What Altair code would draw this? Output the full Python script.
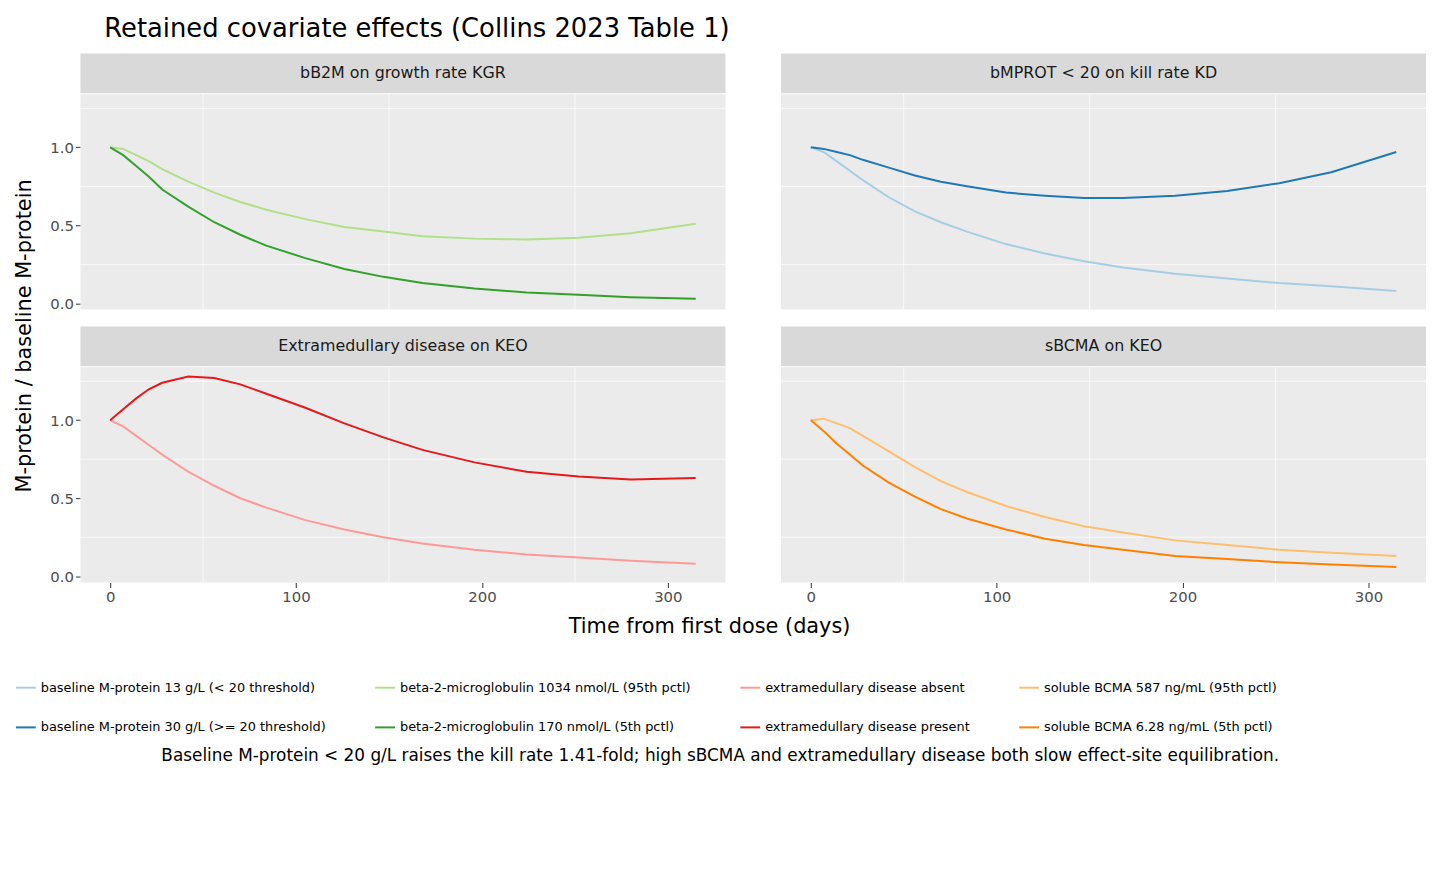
import pandas as pd
import altair as alt

days = [0, 7, 14, 21, 28, 42, 56, 70, 84, 105, 126, 147, 168, 196, 224, 252, 280, 315]

b2m_high = [1.0, 0.99, 0.95, 0.91, 0.86, 0.78, 0.71, 0.65, 0.60, 0.54, 0.49, 0.46, 0.43, 0.415, 0.41, 0.42, 0.45, 0.51]
b2m_low = [1.0, 0.95, 0.88, 0.81, 0.73, 0.62, 0.52, 0.44, 0.37, 0.29, 0.22, 0.17, 0.13, 0.095, 0.07, 0.055, 0.04, 0.03]
mprot_13 = [1.0, 0.97, 0.91, 0.85, 0.79, 0.68, 0.59, 0.52, 0.46, 0.38, 0.32, 0.27, 0.23, 0.19, 0.16, 0.13, 0.11, 0.08]
mprot_30 = [1.0, 0.99, 0.97, 0.95, 0.92, 0.87, 0.82, 0.78, 0.75, 0.71, 0.69, 0.675, 0.675, 0.69, 0.72, 0.77, 0.84, 0.97]
emd_absent = [1.0, 0.96, 0.90, 0.84, 0.78, 0.67, 0.58, 0.50, 0.44, 0.36, 0.30, 0.25, 0.21, 0.17, 0.14, 0.12, 0.10, 0.08]
emd_present = [1.0, 1.07, 1.14, 1.2, 1.24, 1.28, 1.27, 1.23, 1.17, 1.08, 0.98, 0.89, 0.81, 0.73, 0.67, 0.64, 0.62, 0.63]
bcma_high = [1.0, 1.01, 0.98, 0.95, 0.90, 0.80, 0.70, 0.61, 0.54, 0.45, 0.38, 0.32, 0.28, 0.23, 0.20, 0.17, 0.15, 0.13]
bcma_low = [1.0, 0.93, 0.85, 0.78, 0.71, 0.60, 0.51, 0.43, 0.37, 0.30, 0.24, 0.20, 0.17, 0.13, 0.11, 0.09, 0.075, 0.06]

labels = [
    "baseline M-protein 13 g/L (< 20 threshold)",
    "baseline M-protein 30 g/L (>= 20 threshold)",
    "beta-2-microglobulin 1034 nmol/L (95th pctl)",
    "beta-2-microglobulin 170 nmol/L (5th pctl)",
    "extramedullary disease absent",
    "extramedullary disease present",
    "soluble BCMA 587 ng/mL (95th pctl)",
    "soluble BCMA 6.28 ng/mL (5th pctl)",
]
colors = ["#A6CEE3", "#1F78B4", "#B2DF8A", "#33A02C", "#FB9A99", "#E31A1C", "#FDBF6F", "#FF7F00"]
# legend fills row by row; reorder so it reads column by column like the reference
order = [0, 2, 4, 6, 1, 3, 5, 7]

minor_x = [50, 150, 250]
minor_y = [0.25, 0.75, 1.25]

panels = [
    ("bB2M on growth rate KGR", [(labels[2], b2m_high), (labels[3], b2m_low)]),
    ("bMPROT < 20 on kill rate KD", [(labels[0], mprot_13), (labels[1], mprot_30)]),
    ("Extramedullary disease on KEO", [(labels[4], emd_absent), (labels[5], emd_present)]),
    ("sBCMA on KEO", [(labels[6], bcma_high), (labels[7], bcma_low)]),
]

W, H, S = 650, 217, 40
FONT = "DejaVu Sans"
color_scale = alt.Scale(domain=[labels[k] for k in order], range=[colors[k] for k in order])
xs = alt.Scale(domain=[-16, 331], nice=False)
ys = alt.Scale(domain=[-0.04, 1.34], nice=False)


def panel(i, name, series):
    rows = []
    for lab, vals in series:
        rows += [{"day": d, "ratio": v, "series": lab} for d, v in zip(days, vals)]
    df = pd.DataFrame(rows)
    left, bottom = i % 2 == 0, i >= 2
    xaxis = alt.Axis(values=[0, 100, 200, 300], labels=bottom, ticks=bottom, title=None,
                     gridColor="white", gridWidth=1.4, domain=False, labelFontSize=15,
                     labelColor="#4D4D4D", tickColor="#333333", labelFont=FONT)
    yaxis = alt.Axis(values=[0, 0.5, 1.0], labels=left, ticks=left, format=".1f", title=None,
                     gridColor="white", gridWidth=1.4, domain=False, labelFontSize=15,
                     labelColor="#4D4D4D", tickColor="#333333", labelFont=FONT, minExtent=40)
    bg = alt.Chart(pd.DataFrame({"a": [0]})).mark_rect(color="#EBEBEB").encode(
        x=alt.value(0), x2=alt.value(W), y=alt.value(0), y2=alt.value(H))
    vminor = alt.Chart(pd.DataFrame({"m": minor_x})).mark_rule(color="white", strokeWidth=0.7).encode(
        x=alt.X("m:Q", scale=xs), y=alt.value(0), y2=alt.value(H))
    hminor = alt.Chart(pd.DataFrame({"m": minor_y})).mark_rule(color="white", strokeWidth=0.7).encode(
        y=alt.Y("m:Q", scale=ys), x=alt.value(0), x2=alt.value(W))
    lines = alt.Chart(df).mark_line(strokeWidth=2).encode(
        x=alt.X("day:Q", scale=xs, axis=xaxis),
        y=alt.Y("ratio:Q", scale=ys, axis=yaxis),
        color=alt.Color("series:N", scale=color_scale, title=None,
                        legend=alt.Legend(orient="bottom", columns=4, symbolType="stroke",
                                          symbolStrokeWidth=2, symbolSize=400, labelFontSize=13,
                                          labelFont=FONT, columnPadding=45, rowPadding=22,
                                          labelLimit=400, offset=40)),
    )
    strip_df = pd.DataFrame({"t": [name]})
    strip = (
        alt.Chart(strip_df).mark_rect(color="#D9D9D9").encode(
            x=alt.value(0), x2=alt.value(W), y=alt.value(0), y2=alt.value(S))
        + alt.Chart(strip_df).mark_text(fontSize=16, color="#1A1A1A", font=FONT).encode(
            text="t:N", x=alt.value(W / 2), y=alt.value(S / 2))
    ).properties(width=W, height=S)
    plot = (bg + vminor + hminor + lines).properties(width=W, height=H)
    return alt.vconcat(strip, plot, spacing=0)


ps = [panel(i, n, s) for i, (n, s) in enumerate(panels)]
grid = alt.vconcat(alt.hconcat(ps[0], ps[1], spacing=15),
                   alt.hconcat(ps[2], ps[3], spacing=15), spacing=15)

TOTAL_H = 2 * (S + H) + 15
ytitle = alt.Chart(pd.DataFrame({"t": ["M-protein / baseline M-protein"]})).mark_text(
    fontSize=21, angle=270, font=FONT, color="black").encode(
    text="t:N", x=alt.value(10), y=alt.value(TOTAL_H / 2 + 20)).properties(width=18, height=TOTAL_H)

xtitle = alt.Chart(pd.DataFrame({"t": ["Time from first dose (days)"]})).mark_text(
    fontSize=21, font=FONT, color="black").encode(
    text="t:N", x=alt.value(W + 50), y=alt.value(10)).properties(width=2 * W + 60, height=20)

maintitle = alt.Chart(pd.DataFrame({"t": ["Retained covariate effects (Collins 2023 Table 1)"]})).mark_text(
    fontSize=26, font=FONT, color="black", align="left").encode(
    text="t:N", x=alt.value(90), y=alt.value(8)).properties(width=2 * W + 60, height=20)

body = alt.hconcat(ytitle, grid, spacing=6)

chart = alt.vconcat(maintitle, body, xtitle, spacing=12).properties(
    title=alt.TitleParams(
        "Baseline M-protein < 20 g/L raises the kill rate 1.41-fold; high sBCMA and extramedullary disease both slow effect-site equilibration.",
        orient="bottom", fontSize=17, fontWeight="normal", font=FONT, anchor="middle", offset=14)
).configure_view(stroke=None).configure_concat(spacing=0)

chart.save("out.html", embed_options={"renderer": "svg", "actions": False})
